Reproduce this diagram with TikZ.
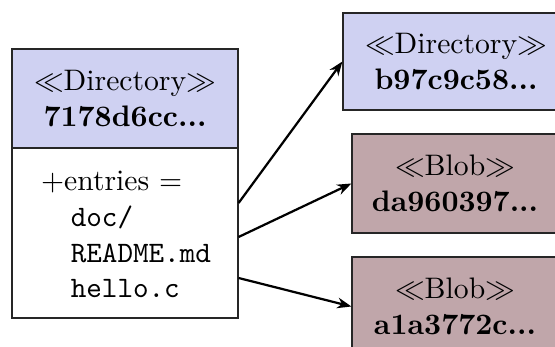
\documentclass[tikz,border=0pt]{standalone}
\usetikzlibrary{arrows.meta}
\definecolor{dirblue}{RGB}{207,209,242}
\definecolor{blobrose}{RGB}{192,166,170}
\newcommand\pxunit{0.337pt}
\begin{document}
\begin{tikzpicture}[x=0.337pt,y=-0.337pt,
  box/.style={draw=black!85, line width=0.4pt, inner sep=0pt, align=center},
  conn/.style={draw=black, line width=0.75pt, -{Stealth[length=4.8pt,width=3.6pt]}}]
\clip (0,0) rectangle (555,347);
% left directory
\node[box, fill=dirblue, minimum width=226*\pxunit, minimum height=99*\pxunit] (Lh) at (125,98.5)
  {$\ll$Directory$\gg$\\\textbf{7178d6cc...}};
\node[box, fill=white, minimum width=226*\pxunit, minimum height=170*\pxunit] (Lb) at (125,233) {};
\node[anchor=base west, inner sep=0pt] (E) at (40.5,191)
  {\begin{tabular}[t]{@{}l@{}}+entries =\\\quad\texttt{doc/}\\\quad\texttt{README.md}\\\quad\texttt{hello.c}\end{tabular}};
% right objects
\node[box, fill=dirblue, minimum width=226*\pxunit, minimum height=97*\pxunit] (D) at (456,61.5)
  {$\ll$Directory$\gg$\\\textbf{b97c9c58...}};
\node[box, fill=blobrose, minimum width=206*\pxunit, minimum height=99*\pxunit] (B1) at (455,183.5)
  {$\ll$Blob$\gg$\\\textbf{da960397...}};
\node[box, fill=blobrose, minimum width=206*\pxunit, minimum height=99*\pxunit] (B2) at (455,306.5)
  {$\ll$Blob$\gg$\\\textbf{a1a3772c...}};
% connectors
\draw[conn] (Lb.east |- 0,203) -- (D.west);
\draw[conn] (Lb.east |- 0,237) -- (B1.west);
\draw[conn] (Lb.east |- 0,278) -- (B2.west);
\end{tikzpicture}
\end{document}
